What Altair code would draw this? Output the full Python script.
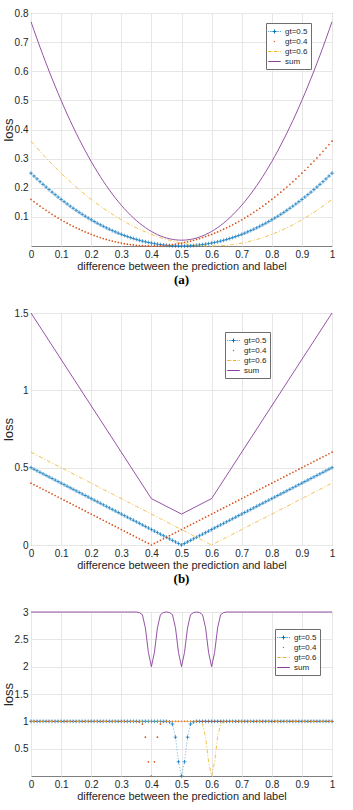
import altair as alt
import pandas as pd

# ---------------- data ----------------
X = [0, 0.01, 0.02, 0.03, 0.04, 0.05, 0.06, 0.07, 0.08, 0.09,
     0.1, 0.11, 0.12, 0.13, 0.14, 0.15, 0.16, 0.17, 0.18, 0.19,
     0.2, 0.21, 0.22, 0.23, 0.24, 0.25, 0.26, 0.27, 0.28, 0.29,
     0.3, 0.31, 0.32, 0.33, 0.34, 0.35, 0.36, 0.37, 0.38, 0.39,
     0.4, 0.41, 0.42, 0.43, 0.44, 0.45, 0.46, 0.47, 0.48, 0.49,
     0.5, 0.51, 0.52, 0.53, 0.54, 0.55, 0.56, 0.57, 0.58, 0.59,
     0.6, 0.61, 0.62, 0.63, 0.64, 0.65, 0.66, 0.67, 0.68, 0.69,
     0.7, 0.71, 0.72, 0.73, 0.74, 0.75, 0.76, 0.77, 0.78, 0.79,
     0.8, 0.81, 0.82, 0.83, 0.84, 0.85, 0.86, 0.87, 0.88, 0.89,
     0.9, 0.91, 0.92, 0.93, 0.94, 0.95, 0.96, 0.97, 0.98, 0.99, 1]

SERIES = ["gt=0.5", "gt=0.4", "gt=0.6", "sum"]
COLORS = ["#0072BD", "#D95319", "#EDB120", "#8A3F9B"]

# (a) squared loss
A05 = [0.25, 0.2401, 0.2304, 0.2209, 0.2116, 0.2025, 0.1936, 0.1849, 0.1764, 0.1681,
       0.16, 0.1521, 0.1444, 0.1369, 0.1296, 0.1225, 0.1156, 0.1089, 0.1024, 0.0961,
       0.09, 0.0841, 0.0784, 0.0729, 0.0676, 0.0625, 0.0576, 0.0529, 0.0484, 0.0441,
       0.04, 0.0361, 0.0324, 0.0289, 0.0256, 0.0225, 0.0196, 0.0169, 0.0144, 0.0121,
       0.01, 0.0081, 0.0064, 0.0049, 0.0036, 0.0025, 0.0016, 0.0009, 0.0004, 0.0001,
       0,
       0.0001, 0.0004, 0.0009, 0.0016, 0.0025, 0.0036, 0.0049, 0.0064, 0.0081, 0.01,
       0.0121, 0.0144, 0.0169, 0.0196, 0.0225, 0.0256, 0.0289, 0.0324, 0.0361, 0.04,
       0.0441, 0.0484, 0.0529, 0.0576, 0.0625, 0.0676, 0.0729, 0.0784, 0.0841, 0.09,
       0.0961, 0.1024, 0.1089, 0.1156, 0.1225, 0.1296, 0.1369, 0.1444, 0.1521, 0.16,
       0.1681, 0.1764, 0.1849, 0.1936, 0.2025, 0.2116, 0.2209, 0.2304, 0.2401, 0.25]
A04 = [0.16, 0.1521, 0.1444, 0.1369, 0.1296, 0.1225, 0.1156, 0.1089, 0.1024, 0.0961,
       0.09, 0.0841, 0.0784, 0.0729, 0.0676, 0.0625, 0.0576, 0.0529, 0.0484, 0.0441,
       0.04, 0.0361, 0.0324, 0.0289, 0.0256, 0.0225, 0.0196, 0.0169, 0.0144, 0.0121,
       0.01, 0.0081, 0.0064, 0.0049, 0.0036, 0.0025, 0.0016, 0.0009, 0.0004, 0.0001,
       0,
       0.0001, 0.0004, 0.0009, 0.0016, 0.0025, 0.0036, 0.0049, 0.0064, 0.0081, 0.01,
       0.0121, 0.0144, 0.0169, 0.0196, 0.0225, 0.0256, 0.0289, 0.0324, 0.0361, 0.04,
       0.0441, 0.0484, 0.0529, 0.0576, 0.0625, 0.0676, 0.0729, 0.0784, 0.0841, 0.09,
       0.0961, 0.1024, 0.1089, 0.1156, 0.1225, 0.1296, 0.1369, 0.1444, 0.1521, 0.16,
       0.1681, 0.1764, 0.1849, 0.1936, 0.2025, 0.2116, 0.2209, 0.2304, 0.2401, 0.25,
       0.2601, 0.2704, 0.2809, 0.2916, 0.3025, 0.3136, 0.3249, 0.3364, 0.3481, 0.36]
A06 = [0.36, 0.3481, 0.3364, 0.3249, 0.3136, 0.3025, 0.2916, 0.2809, 0.2704, 0.2601,
       0.25, 0.2401, 0.2304, 0.2209, 0.2116, 0.2025, 0.1936, 0.1849, 0.1764, 0.1681,
       0.16, 0.1521, 0.1444, 0.1369, 0.1296, 0.1225, 0.1156, 0.1089, 0.1024, 0.0961,
       0.09, 0.0841, 0.0784, 0.0729, 0.0676, 0.0625, 0.0576, 0.0529, 0.0484, 0.0441,
       0.04, 0.0361, 0.0324, 0.0289, 0.0256, 0.0225, 0.0196, 0.0169, 0.0144, 0.0121,
       0.01, 0.0081, 0.0064, 0.0049, 0.0036, 0.0025, 0.0016, 0.0009, 0.0004, 0.0001,
       0,
       0.0001, 0.0004, 0.0009, 0.0016, 0.0025, 0.0036, 0.0049, 0.0064, 0.0081, 0.01,
       0.0121, 0.0144, 0.0169, 0.0196, 0.0225, 0.0256, 0.0289, 0.0324, 0.0361, 0.04,
       0.0441, 0.0484, 0.0529, 0.0576, 0.0625, 0.0676, 0.0729, 0.0784, 0.0841, 0.09,
       0.0961, 0.1024, 0.1089, 0.1156, 0.1225, 0.1296, 0.1369, 0.1444, 0.1521, 0.16]
ASUM = [0.77, 0.7403, 0.7112, 0.6827, 0.6548, 0.6275, 0.6008, 0.5747, 0.5492, 0.5243,
        0.5, 0.4763, 0.4532, 0.4307, 0.4088, 0.3875, 0.3668, 0.3467, 0.3272, 0.3083,
        0.29, 0.2723, 0.2552, 0.2387, 0.2228, 0.2075, 0.1928, 0.1787, 0.1652, 0.1523,
        0.14, 0.1283, 0.1172, 0.1067, 0.0968, 0.0875, 0.0788, 0.0707, 0.0632, 0.0563,
        0.05, 0.0443, 0.0392, 0.0347, 0.0308, 0.0275, 0.0248, 0.0227, 0.0212, 0.0203,
        0.02,
        0.0203, 0.0212, 0.0227, 0.0248, 0.0275, 0.0308, 0.0347, 0.0392, 0.0443, 0.05,
        0.0563, 0.0632, 0.0707, 0.0788, 0.0875, 0.0968, 0.1067, 0.1172, 0.1283, 0.14,
        0.1523, 0.1652, 0.1787, 0.1928, 0.2075, 0.2228, 0.2387, 0.2552, 0.2723, 0.29,
        0.3083, 0.3272, 0.3467, 0.3668, 0.3875, 0.4088, 0.4307, 0.4532, 0.4763, 0.5,
        0.5243, 0.5492, 0.5747, 0.6008, 0.6275, 0.6548, 0.6827, 0.7112, 0.7403, 0.77]

# (b) absolute loss
B05 = [0.5, 0.49, 0.48, 0.47, 0.46, 0.45, 0.44, 0.43, 0.42, 0.41,
       0.4, 0.39, 0.38, 0.37, 0.36, 0.35, 0.34, 0.33, 0.32, 0.31,
       0.3, 0.29, 0.28, 0.27, 0.26, 0.25, 0.24, 0.23, 0.22, 0.21,
       0.2, 0.19, 0.18, 0.17, 0.16, 0.15, 0.14, 0.13, 0.12, 0.11,
       0.1, 0.09, 0.08, 0.07, 0.06, 0.05, 0.04, 0.03, 0.02, 0.01,
       0,
       0.01, 0.02, 0.03, 0.04, 0.05, 0.06, 0.07, 0.08, 0.09, 0.1,
       0.11, 0.12, 0.13, 0.14, 0.15, 0.16, 0.17, 0.18, 0.19, 0.2,
       0.21, 0.22, 0.23, 0.24, 0.25, 0.26, 0.27, 0.28, 0.29, 0.3,
       0.31, 0.32, 0.33, 0.34, 0.35, 0.36, 0.37, 0.38, 0.39, 0.4,
       0.41, 0.42, 0.43, 0.44, 0.45, 0.46, 0.47, 0.48, 0.49, 0.5]
B04 = [0.4, 0.39, 0.38, 0.37, 0.36, 0.35, 0.34, 0.33, 0.32, 0.31,
       0.3, 0.29, 0.28, 0.27, 0.26, 0.25, 0.24, 0.23, 0.22, 0.21,
       0.2, 0.19, 0.18, 0.17, 0.16, 0.15, 0.14, 0.13, 0.12, 0.11,
       0.1, 0.09, 0.08, 0.07, 0.06, 0.05, 0.04, 0.03, 0.02, 0.01,
       0,
       0.01, 0.02, 0.03, 0.04, 0.05, 0.06, 0.07, 0.08, 0.09, 0.1,
       0.11, 0.12, 0.13, 0.14, 0.15, 0.16, 0.17, 0.18, 0.19, 0.2,
       0.21, 0.22, 0.23, 0.24, 0.25, 0.26, 0.27, 0.28, 0.29, 0.3,
       0.31, 0.32, 0.33, 0.34, 0.35, 0.36, 0.37, 0.38, 0.39, 0.4,
       0.41, 0.42, 0.43, 0.44, 0.45, 0.46, 0.47, 0.48, 0.49, 0.5,
       0.51, 0.52, 0.53, 0.54, 0.55, 0.56, 0.57, 0.58, 0.59, 0.6]
B06 = [0.6, 0.59, 0.58, 0.57, 0.56, 0.55, 0.54, 0.53, 0.52, 0.51,
       0.5, 0.49, 0.48, 0.47, 0.46, 0.45, 0.44, 0.43, 0.42, 0.41,
       0.4, 0.39, 0.38, 0.37, 0.36, 0.35, 0.34, 0.33, 0.32, 0.31,
       0.3, 0.29, 0.28, 0.27, 0.26, 0.25, 0.24, 0.23, 0.22, 0.21,
       0.2, 0.19, 0.18, 0.17, 0.16, 0.15, 0.14, 0.13, 0.12, 0.11,
       0.1, 0.09, 0.08, 0.07, 0.06, 0.05, 0.04, 0.03, 0.02, 0.01,
       0,
       0.01, 0.02, 0.03, 0.04, 0.05, 0.06, 0.07, 0.08, 0.09, 0.1,
       0.11, 0.12, 0.13, 0.14, 0.15, 0.16, 0.17, 0.18, 0.19, 0.2,
       0.21, 0.22, 0.23, 0.24, 0.25, 0.26, 0.27, 0.28, 0.29, 0.3,
       0.31, 0.32, 0.33, 0.34, 0.35, 0.36, 0.37, 0.38, 0.39, 0.4]
BSUM_X = [0, 0.4, 0.5, 0.6, 1]
BSUM = [1.5, 0.3, 0.2, 0.3, 1.5]

# (c) bounded (gaussian-like) loss
C05 = ([1, 1, 1, 1, 1, 1, 1, 1, 1, 1, 1, 1, 1, 1, 1, 1, 1, 1, 1, 1, 1, 1, 1,
        1, 1, 1, 1, 1, 1, 1, 1, 1, 1, 1, 1, 1, 1, 1, 1, 1, 1, 1, 1, 1, 1, 1]
       + [0.99, 0.95, 0.71, 0.26, 0, 0.26, 0.71, 0.95, 0.99]
       + [1, 1, 1, 1, 1, 1, 1, 1, 1, 1, 1, 1, 1, 1, 1, 1, 1, 1, 1, 1, 1, 1, 1,
          1, 1, 1, 1, 1, 1, 1, 1, 1, 1, 1, 1, 1, 1, 1, 1, 1, 1, 1, 1, 1, 1, 1])
C04 = ([1, 1, 1, 1, 1, 1, 1, 1, 1, 1, 1, 1, 1, 1, 1, 1, 1, 1,
        1, 1, 1, 1, 1, 1, 1, 1, 1, 1, 1, 1, 1, 1, 1, 1, 1, 1]
       + [0.99, 0.95, 0.71, 0.26, 0, 0.26, 0.71, 0.95, 0.99]
       + [1, 1, 1, 1, 1, 1, 1, 1, 1, 1, 1, 1, 1, 1, 1, 1, 1, 1, 1, 1, 1, 1, 1, 1, 1, 1, 1, 1,
          1, 1, 1, 1, 1, 1, 1, 1, 1, 1, 1, 1, 1, 1, 1, 1, 1, 1, 1, 1, 1, 1, 1, 1, 1, 1, 1, 1])
C06 = ([1, 1, 1, 1, 1, 1, 1, 1, 1, 1, 1, 1, 1, 1, 1, 1, 1, 1, 1, 1, 1, 1, 1, 1, 1, 1, 1, 1,
        1, 1, 1, 1, 1, 1, 1, 1, 1, 1, 1, 1, 1, 1, 1, 1, 1, 1, 1, 1, 1, 1, 1, 1, 1, 1, 1, 1]
       + [0.99, 0.95, 0.71, 0.26, 0, 0.26, 0.71, 0.95, 0.99]
       + [1, 1, 1, 1, 1, 1, 1, 1, 1, 1, 1, 1, 1, 1, 1, 1, 1, 1,
          1, 1, 1, 1, 1, 1, 1, 1, 1, 1, 1, 1, 1, 1, 1, 1, 1, 1])
CSUM = ([3, 3, 3, 3, 3, 3, 3, 3, 3, 3, 3, 3, 3, 3, 3, 3, 3, 3,
         3, 3, 3, 3, 3, 3, 3, 3, 3, 3, 3, 3, 3, 3, 3, 3, 3, 3]
        + [2.99, 2.95, 2.71, 2.26, 2, 2.26, 2.71, 2.95, 2.99, 3,
           2.99, 2.95, 2.71, 2.26, 2, 2.26, 2.71, 2.95, 2.99, 3,
           2.99, 2.95, 2.71, 2.26, 2, 2.26, 2.71, 2.95, 2.99]
        + [3, 3, 3, 3, 3, 3, 3, 3, 3, 3, 3, 3, 3, 3, 3, 3, 3, 3,
           3, 3, 3, 3, 3, 3, 3, 3, 3, 3, 3, 3, 3, 3, 3, 3, 3, 3])

X_TICKS = [0, 0.1, 0.2, 0.3, 0.4, 0.5, 0.6, 0.7, 0.8, 0.9, 1]
A_TICKS = [0.1, 0.2, 0.3, 0.4, 0.5, 0.6, 0.7, 0.8]
B_TICKS = [0, 0.5, 1, 1.5]
C_TICKS = [0.5, 1, 1.5, 2, 2.5, 3]

X_TITLE = "difference between the prediction and label"
Y_TITLE = "loss"


def frame(xs, ys, name):
    return pd.DataFrame({"x": xs, "loss": ys, "series": name})


df_a = pd.concat([frame(X, A05, "gt=0.5"), frame(X, A04, "gt=0.4"),
                  frame(X, A06, "gt=0.6"), frame(X, ASUM, "sum")])
df_b = pd.concat([frame(X, B05, "gt=0.5"), frame(X, B04, "gt=0.4"),
                  frame(X, B06, "gt=0.6"), frame(BSUM_X, BSUM, "sum")])
df_c = pd.concat([frame(X, C05, "gt=0.5"), frame(X, C04, "gt=0.4"),
                  frame(X, C06, "gt=0.6"), frame(X, CSUM, "sum")])

# ---------------- styling ----------------
FONT = "Liberation Sans"
PLUS = "M-1,0L1,0M0,-1L0,1"
# legend glyphs: dotted line with '+', single dot, dash-dot line, solid line
LEG_PLUS = ("M-1.25,0L-1.12,0M-0.92,0L-0.79,0M-0.59,0L-0.46,0M0.46,0L0.59,0"
            "M0.79,0L0.92,0M1.12,0L1.25,0M-0.4,0L0.4,0M0,-0.4L0,0.4")
LEG_DOT = "M-0.12,0L0.12,0M0,-0.12L0,0.12"
LEG_DASHDOT = "M-1.25,0L-0.6,0M-0.4,0L-0.3,0M-0.1,0L0.55,0M0.75,0L0.85,0M1.05,0L1.25,0"
LEG_LINE = "M-1.25,0L1.25,0"
LEG_SHAPES = [LEG_PLUS, LEG_DOT, LEG_DASHDOT, LEG_LINE]

color_scale = alt.Scale(domain=SERIES, range=COLORS)
shape_scale = alt.Scale(domain=SERIES, range=LEG_SHAPES)


def make_legend(lx, ly):
    return alt.Legend(title=None, orient="none", legendX=lx, legendY=ly,
                      fillColor="white", strokeColor="#6e6e6e",
                      padding=3, rowPadding=0, symbolSize=100,
                      symbolStrokeWidth=1, symbolFillColor="transparent",
                      labelOffset=5, labelFont=FONT, labelFontSize=8,
                      labelColor="#262626")


def panel(df, yticks, ydomain, height, lx, ly, title=None):
    base = alt.Chart(df)
    x = alt.X("x:Q", scale=alt.Scale(domain=[0, 1], nice=False, zero=False),
              axis=alt.Axis(values=X_TICKS, format="~g", title=X_TITLE,
                            labelFlush=False, labelOverlap=False, ticks=False,
                            labelPadding=3, titlePadding=1, titleFontSize=11))
    y = alt.Y("loss:Q", scale=alt.Scale(domain=ydomain, nice=False, zero=False),
              axis=alt.Axis(values=yticks, format="~g", title=Y_TITLE,
                            labelFlush=False, labelOverlap=False, ticks=False,
                            labelPadding=3, titleFontSize=13, titleX=-23,
                            titleBaseline="middle"))

    l05 = base.transform_filter(alt.datum.series == "gt=0.5").mark_line(
        color=COLORS[0], strokeDash=[1, 2], strokeWidth=0.7, opacity=0.8).encode(x=x, y=y)
    p05 = base.transform_filter(alt.datum.series == "gt=0.5").mark_point(
        color=COLORS[0], shape=PLUS, filled=False, size=14, strokeWidth=0.8,
        opacity=0.9).encode(x=x, y=y)
    p04 = base.transform_filter(alt.datum.series == "gt=0.4").mark_circle(
        color=COLORS[1], size=3, opacity=1).encode(x=x, y=y)
    l06 = base.transform_filter(alt.datum.series == "gt=0.6").mark_line(
        color=COLORS[2], strokeDash=[4, 2, 1, 2], strokeWidth=0.8).encode(x=x, y=y)
    lsum = base.transform_filter(alt.datum.series == "sum").mark_line(
        color=COLORS[3], strokeWidth=0.9).encode(x=x, y=y)
    # legend-only layer (draws no marks: its filter keeps no rows)
    leg = base.transform_filter("false").mark_point(
        filled=False, strokeWidth=1, opacity=1).encode(
        x=x, y=y,
        color=alt.Color("series:N", scale=color_scale, legend=make_legend(lx, ly)),
        shape=alt.Shape("series:N", scale=shape_scale, legend=make_legend(lx, ly)))

    props = dict(width=301, height=height)
    if title:
        props["title"] = alt.TitleParams(title, orient="bottom", font="Liberation Serif",
                                         fontSize=13, fontWeight="bold", color="#000000",
                                         offset=3)
    return alt.layer(l05, p05, p04, l06, lsum, leg).properties(**props)


pa = panel(df_a, A_TICKS, [0, 0.8], 233, 235, 10, "(a)")
pb = panel(df_b, B_TICKS, [0, 1.5], 232, 194, 19, "(b)")
pc = panel(df_c, C_TICKS, [0, 3], 164, 244, 17)

chart = alt.vconcat(pa, pb, pc, spacing=67, bounds="flush").resolve_scale(
    color="independent", shape="independent"
).resolve_legend(
    color="independent", shape="independent"
).properties(
    padding={"left": 1, "top": 7, "right": 0, "bottom": 0},
    background="white",
).configure_view(stroke="#7f7f7f", strokeWidth=1).configure_axis(
    labelFont=FONT, labelFontSize=10, labelColor="#262626",
    titleFont=FONT, titleFontWeight="normal", titleColor="#262626",
    gridColor="#e6e6e6", gridWidth=1, domain=False,
)

chart.save("out.html", embed_options={"renderer": "svg", "actions": False})
